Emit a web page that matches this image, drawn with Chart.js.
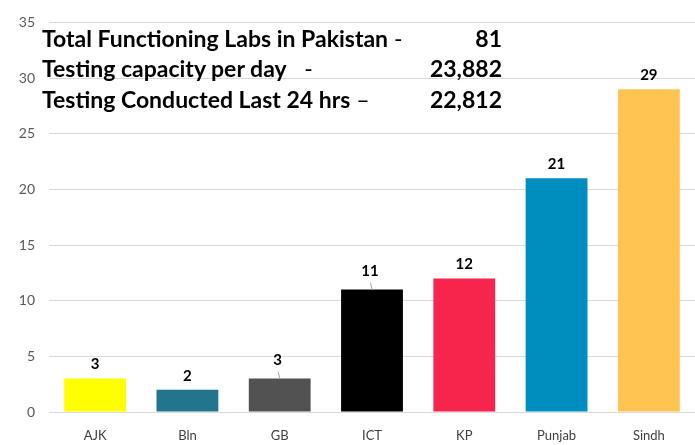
<!DOCTYPE html>
<html>
<head>
<meta charset="utf-8">
<script src="https://cdn.jsdelivr.net/npm/chart.js@4.4.0/dist/chart.umd.min.js"></script>
<style>
  html, body { margin: 0; padding: 0; background: #fff; }
  #wrap { position: relative; width: 695px; height: 445px; }
  .note { position: absolute; font-family: Lato, "Open Sans", sans-serif; font-weight: bold; font-size: 23px; color: #000; white-space: pre; }
  .note .v { position: absolute; left: 0; width: 502px; text-align: right; top: 0; }
  .note .d { font-weight: normal; }
</style>
</head>
<body>
<div id="wrap">
  <canvas id="labChart" width="695" height="445"></canvas>
</div>
<script>
// categories and lab counts per region
const regions = ['AJK', 'Bln', 'GB', 'ICT', 'KP', 'Punjab', 'Sindh'];
const labCounts = [3, 2, 3, 11, 12, 21, 29];
const barColors = ['#FFFF00', '#22758C', '#525252', '#000000', '#F7244B', '#008EBE', '#FFC452'];
const yTicks = [0, 5, 10, 15, 20, 25, 30, 35];

// summary text in the top-left corner
const noteLabels = ['Total Functioning Labs in Pakistan', 'Testing capacity per day', 'Testing Conducted Last 24 hrs'];
const noteDashes = [' -', '   -', ' \u2013'];
const noteValues = ['81', '23,882', '22,812'];

const wrap = document.getElementById('wrap');
const noteTops = [24, 54, 85];
noteLabels.forEach((txt, i) => {
    const d = document.createElement('div');
    d.className = 'note';
    d.style.left = '0px';
    d.style.top = noteTops[i] + 'px';
    d.style.width = '695px';
    d.innerHTML = '<span style="position:absolute;left:42px;top:0">' + txt +
        '<span class="d">' + noteDashes[i] + '</span></span><span class="v">' + noteValues[i] + '</span>';
    wrap.appendChild(d);
});

// draws the value above each bar (with a small leader line where the label sits a bit off)
const leaderBars = [2, 3];
const valueLabels = {
    id: 'valueLabels',
    afterDatasetsDraw(chart) {
        const ctx = chart.ctx;
        const meta = chart.getDatasetMeta(0);
        ctx.save();
        ctx.font = 'bold 15px Lato, "Open Sans", sans-serif';
        ctx.fillStyle = '#000';
        ctx.textAlign = 'center';
        ctx.textBaseline = 'middle';
        meta.data.forEach((bar, i) => {
            if (leaderBars.includes(i)) {
                ctx.strokeStyle = '#a6a6a6';
                ctx.lineWidth = 1;
                ctx.beginPath();
                ctx.moveTo(bar.x - 1.5, bar.y - 7);
                ctx.lineTo(bar.x, bar.y);
                ctx.stroke();
                ctx.fillText(labCounts[i], bar.x - 2, bar.y - 18);
            } else {
                ctx.fillText(labCounts[i], bar.x, bar.y - 14);
            }
        });
        ctx.restore();
    }
};

const ctx = document.getElementById('labChart').getContext('2d');
const myChart = new Chart(ctx, {
    type: 'bar',
    data: {
        labels: regions,
        datasets: [{
            data: labCounts,
            backgroundColor: barColors,
            borderWidth: 0,
            categoryPercentage: 1.0,
            barPercentage: 0.67
        }]
    },
    options: {
        responsive: false,
        animation: false,
        layout: { padding: { top: 12, right: 0, bottom: 0, left: 1 } },
        plugins: {
            legend: { display: false },
            tooltip: { enabled: false }
        },
        scales: {
            x: {
                grid: { display: false },
                border: { color: '#d9d9d9', width: 1 },
                ticks: { color: '#404040', font: { family: 'Lato, "Open Sans", sans-serif', size: 13 }, padding: 8 },
                afterFit(scale) { scale.height = 33; }
            },
            y: {
                min: 0,
                max: 35,
                afterBuildTicks(scale) { scale.ticks = yTicks.map(v => ({ value: v })); },
                grid: { color: '#d9d9d9', drawTicks: false },
                border: { display: false },
                ticks: { color: '#595959', font: { family: 'Lato, "Open Sans", sans-serif', size: 14 }, padding: 14 },
                afterFit(scale) { scale.width = 48; }
            }
        }
    },
    plugins: [valueLabels]
});
</script>
</body>
</html>
